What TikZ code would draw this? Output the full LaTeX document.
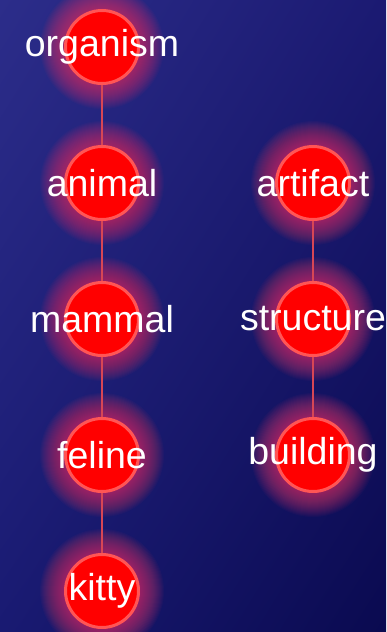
\documentclass[tikz,border=0pt]{standalone}
\usepackage{fontspec}
\setmainfont{Liberation Sans}
\usepackage{tikz}
\usetikzlibrary{positioning, backgrounds, shadings}
\definecolor{bgtl}{RGB}{44,45,138}
\definecolor{bgtr}{RGB}{27,26,114}
\definecolor{bgbl}{RGB}{25,26,114}
\definecolor{bgbr}{RGB}{10,10,80}
\definecolor{ballred}{RGB}{255,0,0}
\definecolor{ballrim}{RGB}{255,85,85}
\definecolor{glowpink}{RGB}{255,60,100}
\definecolor{linkred}{RGB}{215,70,85}
\tikzset{
  ball/.style={circle, draw=ballrim, fill=ballred, line width=3pt,
    minimum size=73pt, inner sep=0pt},
  word/.style={text=white, font=\fontsize{37.5}{37.5}\selectfont},
  link/.style={draw=linkred, line width=2.5pt}
}
\newcommand{\halo}[1]{%
  \foreach \r in {38,...,62}
    \fill[glowpink, opacity=0.036] (#1) circle (\r pt);}

\begin{document}
\begin{tikzpicture}[node distance=136pt and 211pt, on grid]
  % backdrop
  \shade[upper left=bgtl, upper right=bgtr, lower left=bgbl, lower right=bgbr]
    (0,0) rectangle (386pt,-632pt);
  \useasboundingbox (0,0) rectangle (386pt,-632pt);

  % glow spots
  \coordinate (c1) at (102pt,-47pt);
  \coordinate (c2) at (102pt,-183pt);
  \coordinate (c3) at (102pt,-319pt);
  \coordinate (c4) at (102pt,-455pt);
  \coordinate (c5) at (102pt,-591pt);
  \coordinate (c6) at (313pt,-183pt);
  \coordinate (c7) at (313pt,-319pt);
  \coordinate (c8) at (313pt,-455pt);
  \foreach \c in {c1,c2,c3,c4,c5,c6,c7,c8} {\halo{\c}}

  % left chain
  \node [ball] (organism) at (c1) {};
  \node [ball, below=of organism] (animal) {};
  \node [ball, below=of animal] (mammal) {};
  \node [ball, below=of mammal] (feline) {};
  \node [ball, below=of feline] (kitty) {};

  % right chain
  \node [ball, right=of animal] (artifact) {};
  \node [ball, below=of artifact] (structure) {};
  \node [ball, below=of structure] (building) {};

  \draw [link] (organism) -- (animal);
  \draw [link] (animal) -- (mammal);
  \draw [link] (mammal) -- (feline);
  \draw [link] (feline) -- (kitty);
  \draw [link] (artifact) -- (structure);
  \draw [link] (structure) -- (building);

  \node [word] at (organism) {organism};
  \node [word] at (animal) {animal};
  \node [word] at (mammal) {mammal};
  \node [word] at (feline) {feline};
  \node [word] at (kitty) {kitty};
  \node [word] at (artifact) {artifact};
  \node [word] at (structure) {structure};
  \node [word] at (building) {building};
\end{tikzpicture}
\end{document}
